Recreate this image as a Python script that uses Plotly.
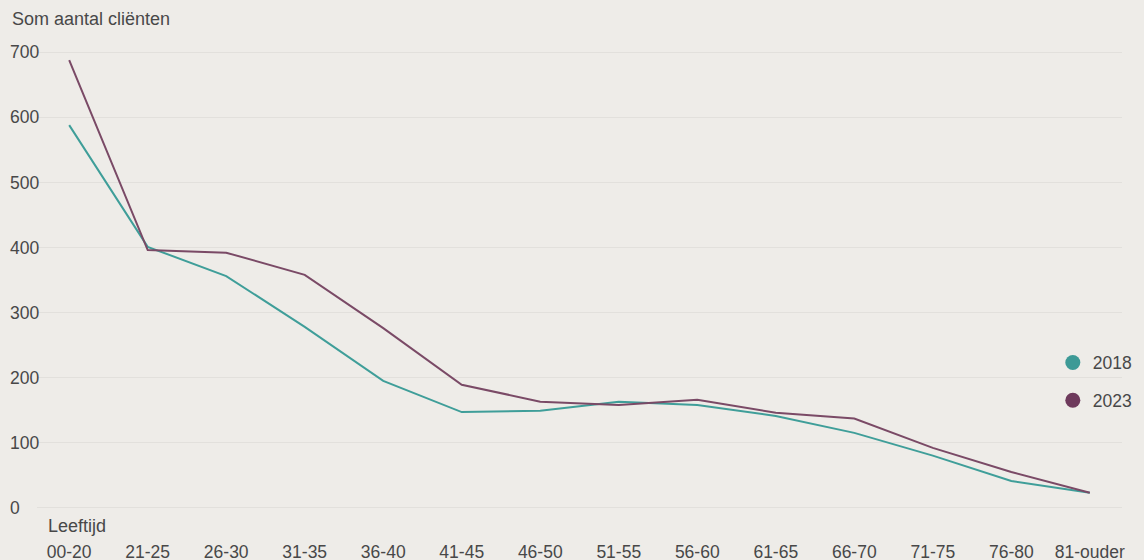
import plotly.graph_objects as go

leeftijd = ["00-20", "21-25", "26-30", "31-35", "36-40", "41-45", "46-50",
            "51-55", "56-60", "61-65", "66-70", "71-75", "76-80", "81-ouder"]
clienten_2018 = [588, 401, 356, 278, 195, 147, 149, 163, 158, 141, 115, 80, 41, 23]
clienten_2023 = [688, 396, 392, 358, 276, 189, 163, 158, 166, 146, 137, 92, 55, 23]
y_ticks = [0, 100, 200, 300, 400, 500, 600, 700]

kleur_2018 = "#3d9a96"
kleur_2023 = "#6e3a5c"
tekst = "#484848"
font_family = "Liberation Sans, Arial, sans-serif"

fig = go.Figure()

for naam, waarden, kleur, lijn in [
    ("2018", clienten_2018, kleur_2018, "#3f9e99"),
    ("2023", clienten_2023, kleur_2023, "#7a4a66"),
]:
    fig.add_trace(go.Scatter(
        x=leeftijd, y=waarden, mode="lines",
        line=dict(color=lijn, width=2),
        showlegend=False, hoverinfo="x+y", name=naam,
    ))
    # legend entry drawn as a filled dot (carries the label axis y2)
    fig.add_trace(go.Scatter(
        x=[leeftijd[0]], y=[None], mode="markers", name=naam, yaxis="y2",
        marker=dict(color=kleur, size=15, symbol="circle"),
        legendgroup=naam, showlegend=True,
    ))

x_start = 31 / 1116

fig.update_layout(
    width=1144, height=560,
    paper_bgcolor="#eeece8", plot_bgcolor="#eeece8",
    margin=dict(l=6, r=22, t=50.7, b=50.7, autoexpand=False),
    font=dict(family=font_family, size=17.5, color=tekst),
    xaxis=dict(
        type="category", domain=[x_start, 1],
        range=[-0.41, 13.41],
        showgrid=False, zeroline=False, showline=False,
        ticks="", ticklabelstandoff=30,
        tickfont=dict(size=17.5, color=tekst),
    ),
    yaxis=dict(
        range=[-2, 702], tickvals=y_ticks,
        showgrid=True, gridcolor="#e2e0dc", gridwidth=1,
        zeroline=False, showline=False, showticklabels=False,
        ticks="",
    ),
    yaxis2=dict(
        overlaying="y", anchor="free", position=0,
        range=[-2, 702], tickvals=y_ticks,
        showgrid=False, zeroline=False, showline=False,
        ticks="", ticklabelposition="inside", ticklabeloverflow="allow",
        tickfont=dict(size=17.5, color=tekst),
    ),
    legend=dict(
        x=0.938, xanchor="left", y=0.278, yanchor="middle",
        bgcolor="rgba(0,0,0,0)", font=dict(size=17.5, color=tekst),
        traceorder="grouped", tracegroupgap=12,
        itemsizing="trace",
    ),
    annotations=[
        dict(text="Som aantal cliënten", xref="paper", yref="paper",
             x=0, y=1, xshift=4, yshift=32, xanchor="left", yanchor="middle",
             showarrow=False, font=dict(size=18, color=tekst)),
        dict(text="Leeftijd", xref="paper", yref="paper",
             x=x_start, y=0, xshift=9, yshift=-17, xanchor="left", yanchor="middle",
             showarrow=False, font=dict(size=18, color=tekst)),
    ],
)

fig.write_html("out.html")
